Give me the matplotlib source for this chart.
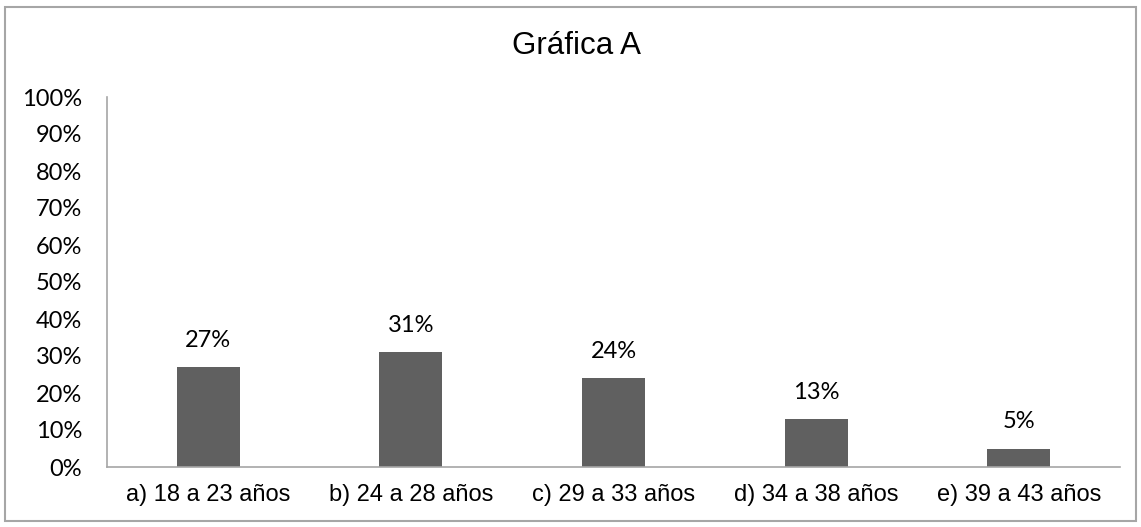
import matplotlib
matplotlib.use("Agg")
import matplotlib.pyplot as plt
from matplotlib.patches import Rectangle

categories = ["a) 18 a 23 años", "b) 24 a 28 años", "c) 29 a 33 años",
              "d) 34 a 38 años", "e) 39 a 43 años"]
values = [27, 31, 24, 13, 5]
yticks = list(range(0, 101, 10))
title = "Gráfica A"

W, H = 1141, 527
fig = plt.figure(figsize=(W / 100, H / 100), dpi=100)
fig.patch.set_facecolor("white")

# chart frame
fig.add_artist(Rectangle((5 / W, 1 - 521 / H), 1131 / W, 514 / H,
                         transform=fig.transFigure, fill=False,
                         edgecolor="#a6a6a6", linewidth=1.5))

left, right, top, bottom = 107, 1120, 97, 467
ax = fig.add_axes([left / W, 1 - bottom / H, (right - left) / W, (bottom - top) / H])

x = list(range(len(categories)))
bars = ax.bar(x, values, width=0.31, color="#606060", zorder=2)
for xi, v in zip(x, values):
    ax.text(xi, v + 7.2, f"{v}%", ha="center", va="center",
            fontsize=17, family=["Lato", "DejaVu Sans"], color="black")

ax.set_xlim(-0.5, len(categories) - 0.5)
ax.set_ylim(0, 100)
ax.set_yticks(yticks)
ax.set_yticklabels([f"{t}%" for t in yticks], fontsize=17, family=["Lato", "DejaVu Sans"])
ax.set_xticks(x)
ax.set_xticklabels(categories, fontsize=17, family=["Liberation Sans", "DejaVu Sans"])
ax.tick_params(axis="both", length=0)
ax.tick_params(axis="y", pad=18)
ax.tick_params(axis="x", pad=12)

for s in ["top", "right"]:
    ax.spines[s].set_visible(False)
for s in ["left", "bottom"]:
    ax.spines[s].set_color("#a6a6a6")
    ax.spines[s].set_linewidth(1.2)

fig.text(577 / W, 1 - 46 / H, title, ha="center", va="center",
         fontsize=22.5, family=["Liberation Sans", "DejaVu Sans"])

fig.savefig("out.png", dpi=100)
